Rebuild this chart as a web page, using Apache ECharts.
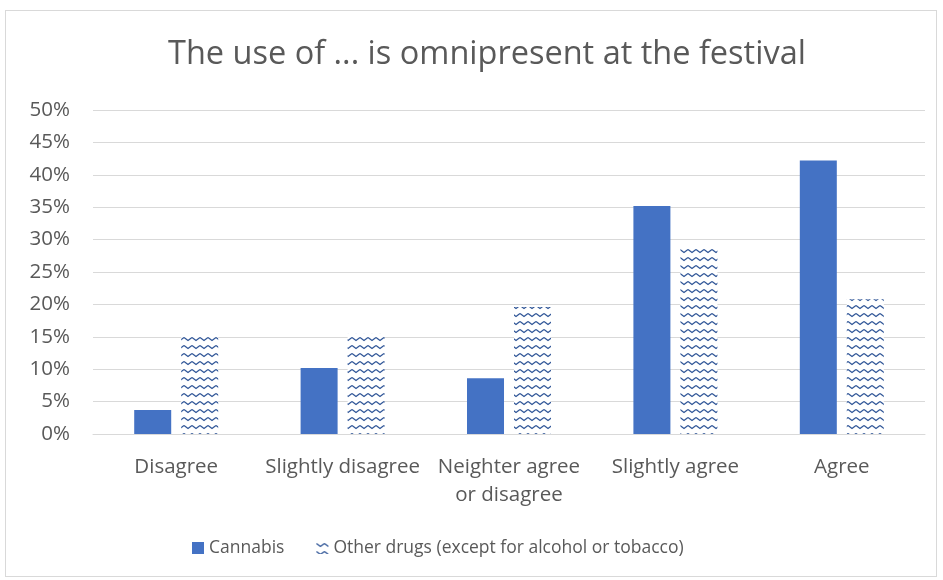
<!DOCTYPE html>
<html>
<head>
<meta charset="utf-8">
<script src="https://cdn.jsdelivr.net/npm/echarts@6/dist/echarts.min.js"></script>
<style>
  html, body { margin: 0; padding: 0; background: #fff; }
  #frame { position: absolute; left: 5px; top: 10px; width: 932px; height: 567px; border: 1px solid #d9d9d9; box-sizing: border-box; }
  #main { position: absolute; left: 0; top: 0; width: 943px; height: 580px; }
</style>
</head>
<body>
<div id="frame"></div>
<div id="main"></div>
<script>
// data
const categories = ["Disagree", "Slightly disagree", "Neighter agree\nor disagree", "Slightly agree", "Agree"];
const cannabis = [3.7, 10.2, 8.6, 35.2, 42.2];
const otherDrugs = [15.1, 15.6, 19.6, 29.0, 20.8];
const seriesNames = ["Cannabis", "Other drugs (except for alcohol or tobacco)"];

// zigzag fill like the excel pattern
function zigzag() {
  const c = document.createElement("canvas");
  c.width = 8;
  c.height = 8;
  const ctx = c.getContext("2d");
  ctx.fillStyle = "#fff";
  ctx.fillRect(0, 0, 8, 8);
  ctx.strokeStyle = "#2f5597";
  ctx.lineWidth = 1.3;
  ctx.beginPath();
  ctx.moveTo(0, 1.5);
  ctx.lineTo(4, 4.5);
  ctx.lineTo(8, 1.5);
  ctx.stroke();
  return c;
}

const font = "'Open Sans', 'Noto Sans', sans-serif";
const chart = echarts.init(document.getElementById("main"));

chart.setOption({
  animation: false,
  title: {
    text: "The use of ... is omnipresent at the festival",
    left: 163,
    top: 33,
    textStyle: { fontFamily: font, fontSize: 32.5, fontWeight: "normal", color: "#595959" },
  },
  grid: { left: 93, right: 18, top: 110, bottom: 146 },
  legend: {
    bottom: 18,
    left: 187,
    itemWidth: 12,
    itemHeight: 12,
    itemGap: 32,
    icon: "rect",
    textStyle: { fontFamily: font, fontSize: 17.5, color: "#595959" },
  },
  xAxis: {
    type: "category",
    data: categories,
    axisLine: { lineStyle: { color: "#d9d9d9" } },
    axisTick: { show: false },
    axisLabel: { fontFamily: font, fontSize: 20.5, color: "#595959", margin: 19, lineHeight: 28, interval: 0 },
  },
  yAxis: {
    type: "value",
    min: 0,
    max: 50,
    interval: 5,
    axisLabel: { formatter: "{value}%", fontFamily: font, fontSize: 20.5, color: "#595959", margin: 23 },
    splitLine: { lineStyle: { color: "#d9d9d9" } },
  },
  series: [
    {
      name: seriesNames[0],
      type: "bar",
      data: cannabis,
      barWidth: 37,
      barGap: "27%",
      itemStyle: { color: "#4472c4" },
    },
    {
      name: seriesNames[1],
      type: "bar",
      data: otherDrugs,
      barWidth: 37,
      itemStyle: { color: { image: zigzag(), repeat: "repeat" } },
    },
  ],
});
</script>
</body>
</html>
